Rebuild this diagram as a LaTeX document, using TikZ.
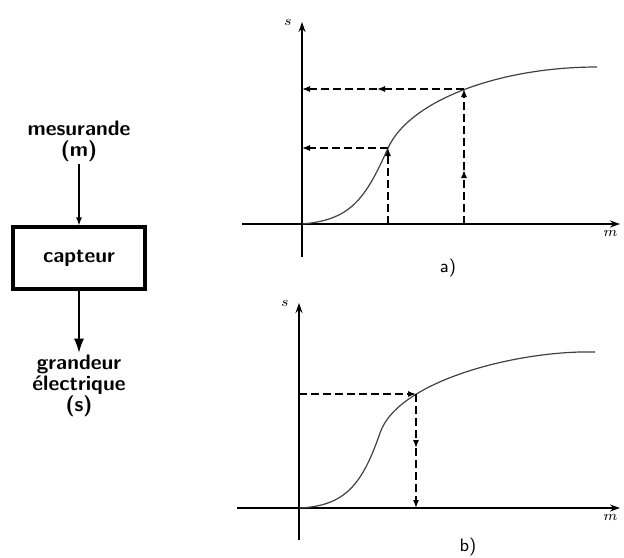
\documentclass[tikz,border=0pt]{standalone}
\usetikzlibrary{arrows.meta,positioning}
\begin{document}
\begin{tikzpicture}[
		x=0.5pt, y=-0.5pt,
		>={Latex[length=4pt,width=3pt]},
		axis/.style={line width=0.7pt, -{Stealth[length=5pt,width=3.5pt]}},
		curve/.style={line width=0.6pt, black!75},
		guide/.style={line width=0.6pt, dash pattern=on 4pt off 2pt},
		hand/.style={font=\fontsize{10.5}{10.5}\selectfont\sffamily\bfseries, align=center, inner sep=1pt},
		every node/.style={inner sep=1pt}
	]
	\useasboundingbox (0,0) rectangle (624,557);
	
	% schema du capteur
	\node[hand] (mes) at (79,141) {mesurande\\(m)};
	\node[draw, line width=1.6pt, minimum width=66pt, minimum height=31pt,
		font=\fontsize{10.5}{12}\selectfont\sffamily\bfseries] (cap) at (79,258) {capteur};
	\node[hand] (gra) at (79,386) {grandeur\\électrique\\(s)};
	\draw[line width=0.6pt, ->] (mes) -- (cap);
	\draw[line width=0.7pt, -{Latex[length=7pt,width=5pt]}] (cap) -- (gra);
	
	% graphe a)
	\path
	(302,257) coordinate (Oa0)
	(302,22) coordinate (Sa)
	(242,224) coordinate (Ma0)
	(620,224) coordinate (Ma)
	(302,224) coordinate (Oa)
	(388,148) coordinate (Pa)
	(464,89) coordinate (Qa)
	(388,224) coordinate (PaX)
	(464,224) coordinate (QaX)
	(302,148) coordinate (PaY)
	(302,89) coordinate (QaY)
	(464,170) coordinate (QaM)
	(377,89) coordinate (QaN)
	(597,67) coordinate (Ea)
	;
	\draw[axis] (Oa0) -- (Sa);
	\draw[axis] (Ma0) -- (Ma);
	\node[font=\itshape\fontsize{7}{8}\selectfont, left=4pt] at (Sa) {$s$};
	\node[font=\itshape\fontsize{7}{8}\selectfont, below left=2pt and 0pt] at (Ma) {$m$};
	\draw[curve] (Oa) .. controls (350,220) and (365,200) .. (Pa)
		.. controls (410,100) and (500,67) .. (Ea);
	
	\draw[guide, ->] (PaX) -- (Pa);
	\draw[guide, ->] (Pa) -- (PaY);
	\draw[guide, ->] (QaX) -- (QaM);
	\draw[guide, ->] (QaM) -- (Qa);
	\draw[guide, ->] (Qa) -- (QaN);
	\draw[guide, ->] (QaN) -- (QaY);
	\node[font=\sffamily\fontsize{9}{10}\selectfont] (la) at (448,268) {a)};
	
	% graphe b)
	\path
	(299,540) coordinate (Ob0)
	(299,303) coordinate (Sb)
	(237,508) coordinate (Mb0)
	(620,508) coordinate (Mb)
	(299,508) coordinate (Ob)
	(380,433) coordinate (Ib)
	(595,352) coordinate (Eb)
	(416,394) coordinate (Pb)
	(299,394) coordinate (PbY)
	(416,448) coordinate (PbM)
	(416,508) coordinate (PbX)
	;
	\draw[axis] (Ob0) -- (Sb);
	\draw[axis] (Mb0) -- (Mb);
	\node[font=\itshape\fontsize{7}{8}\selectfont, left=4pt] at (Sb) {$s$};
	\node[font=\itshape\fontsize{7}{8}\selectfont, below left=2pt and 0pt] at (Mb) {$m$};
	\draw[curve] (Ob) .. controls (345,506) and (362,485) .. (Ib)
		.. controls (398,380) and (520,350) .. (Eb);
	
	\draw[guide, ->] (PbY) -- (Pb);
	\draw[guide, ->] (Pb) -- (PbM);
	\draw[guide, ->] (PbM) -- (PbX);
	\node[font=\sffamily\fontsize{9}{10}\selectfont] (lb) at (468,547) {b)};
	
\end{tikzpicture}
\end{document}
